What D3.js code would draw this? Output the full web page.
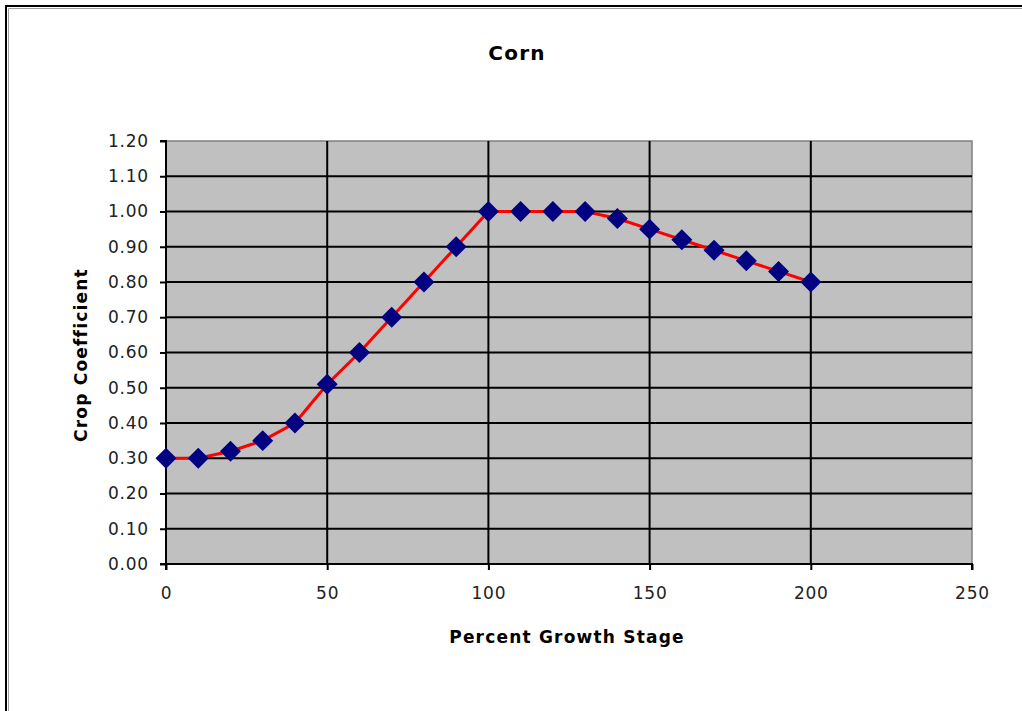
<!DOCTYPE html>
<html>
<head>
<meta charset="utf-8">
<script src="https://cdn.jsdelivr.net/npm/d3@7"></script>
<style>
  html, body { margin: 0; padding: 0; background: #fff; }
  svg { display: block; font-family: "DejaVu Sans", Verdana, sans-serif; }
</style>
</head>
<body>
<svg id="chart" width="1022" height="711"></svg>
<script>
// Corn crop coefficient by percent growth stage
const growthStage = [0, 10, 20, 30, 40, 50, 60, 70, 80, 90, 100, 110, 120, 130, 140, 150, 160, 170, 180, 190, 200];
const cropCoefficient = [0.30, 0.30, 0.32, 0.35, 0.40, 0.51, 0.60, 0.70, 0.80, 0.90, 1.00, 1.00, 1.00, 1.00, 0.98, 0.95, 0.92, 0.89, 0.86, 0.83, 0.80];
const xTicks = [0, 50, 100, 150, 200, 250];
const yTicks = [0, 0.1, 0.2, 0.3, 0.4, 0.5, 0.6, 0.7, 0.8, 0.9, 1.0, 1.1, 1.2];

const FONT = "'DejaVu Sans', Verdana, sans-serif";
const svg = d3.select("#chart");
const plot = { left: 166, top: 141, right: 972, bottom: 564 };

// outer chart frame (runs off the right and bottom edges)
svg.append("rect").attr("x", 6).attr("y", 6).attr("width", 1030).attr("height", 720)
  .attr("fill", "#fff").attr("stroke", "#000").attr("stroke-width", 2);
svg.append("path").attr("d", "M8,1030V8H1030").attr("fill", "none")
  .attr("stroke", "#a0a0a0").attr("stroke-width", 1).attr("transform", "translate(0.5,0.5)");

const x = d3.scaleLinear().domain([0, 250]).range([plot.left, plot.right]);
const y = d3.scaleLinear().domain([0, 1.2]).range([plot.bottom, plot.top]);

// plot background
svg.append("rect")
  .attr("x", plot.left).attr("y", plot.top)
  .attr("width", plot.right - plot.left).attr("height", plot.bottom - plot.top)
  .attr("fill", "#c0c0c0").attr("stroke", "#808080").attr("stroke-width", 1.5);

// gridlines
svg.append("g").selectAll("line").data(yTicks.slice(1, -1)).join("line")
  .attr("x1", plot.left).attr("x2", plot.right)
  .attr("y1", d => y(d)).attr("y2", d => y(d))
  .attr("stroke", "#000").attr("stroke-width", 2);
svg.append("g").selectAll("line").data(xTicks.slice(1, -1)).join("line")
  .attr("x1", d => x(d)).attr("x2", d => x(d))
  .attr("y1", plot.top).attr("y2", plot.bottom)
  .attr("stroke", "#000").attr("stroke-width", 2);

// axes
const yAxis = svg.append("g").attr("transform", `translate(${plot.left},0)`)
  .call(d3.axisLeft(y).tickValues(yTicks).tickFormat(d3.format(".2f")).tickSize(6).tickPadding(11));
const xAxis = svg.append("g").attr("transform", `translate(0,${plot.bottom})`)
  .call(d3.axisBottom(x).tickValues(xTicks).tickFormat(d3.format("d")).tickSize(6).tickPadding(17));
[yAxis, xAxis].forEach(a => {
  a.attr("font-size", null).attr("font-family", null);
  a.select(".domain").attr("stroke", "#000").attr("stroke-width", 2);
  a.selectAll(".tick line").attr("stroke", "#000").attr("stroke-width", 2);
  a.selectAll(".tick text").attr("fill", "#222")
    .style("font-size", "17px").style("font-family", FONT).style("letter-spacing", "0.8px");
});
yAxis.select(".domain").attr("d", `M-6,${plot.top}H0V${plot.bottom}H-6`);
xAxis.select(".domain").attr("d", `M${plot.left},6V0H${plot.right}V6`);

// series line
const pts = growthStage.map((g, i) => [g, cropCoefficient[i]]);
svg.append("path").datum(pts)
  .attr("d", d3.line().x(d => x(d[0])).y(d => y(d[1])))
  .attr("fill", "none").attr("stroke", "#ff0000").attr("stroke-width", 3);

// diamond markers
const diamond = d3.symbol().type(d3.symbolSquare).size(220);
svg.append("g").selectAll("path").data(pts).join("path")
  .attr("d", diamond)
  .attr("transform", d => `translate(${x(d[0])},${y(d[1])}) rotate(45)`)
  .attr("fill", "#000080");

// titles
const title = (sel, size) => sel.attr("text-anchor", "middle").attr("fill", "#000")
  .style("font-family", FONT).style("font-size", size + "px").style("font-weight", "bold")
  .style("letter-spacing", "1.2px");
svg.append("text").attr("x", 517).attr("y", 60).call(title, 20).text("Corn");
svg.append("text").attr("x", 567).attr("y", 643).call(title, 17).text("Percent Growth Stage");
svg.append("text").attr("transform", "translate(87,355) rotate(-90)").call(title, 17).text("Crop Coefficient");
</script>
</body>
</html>
